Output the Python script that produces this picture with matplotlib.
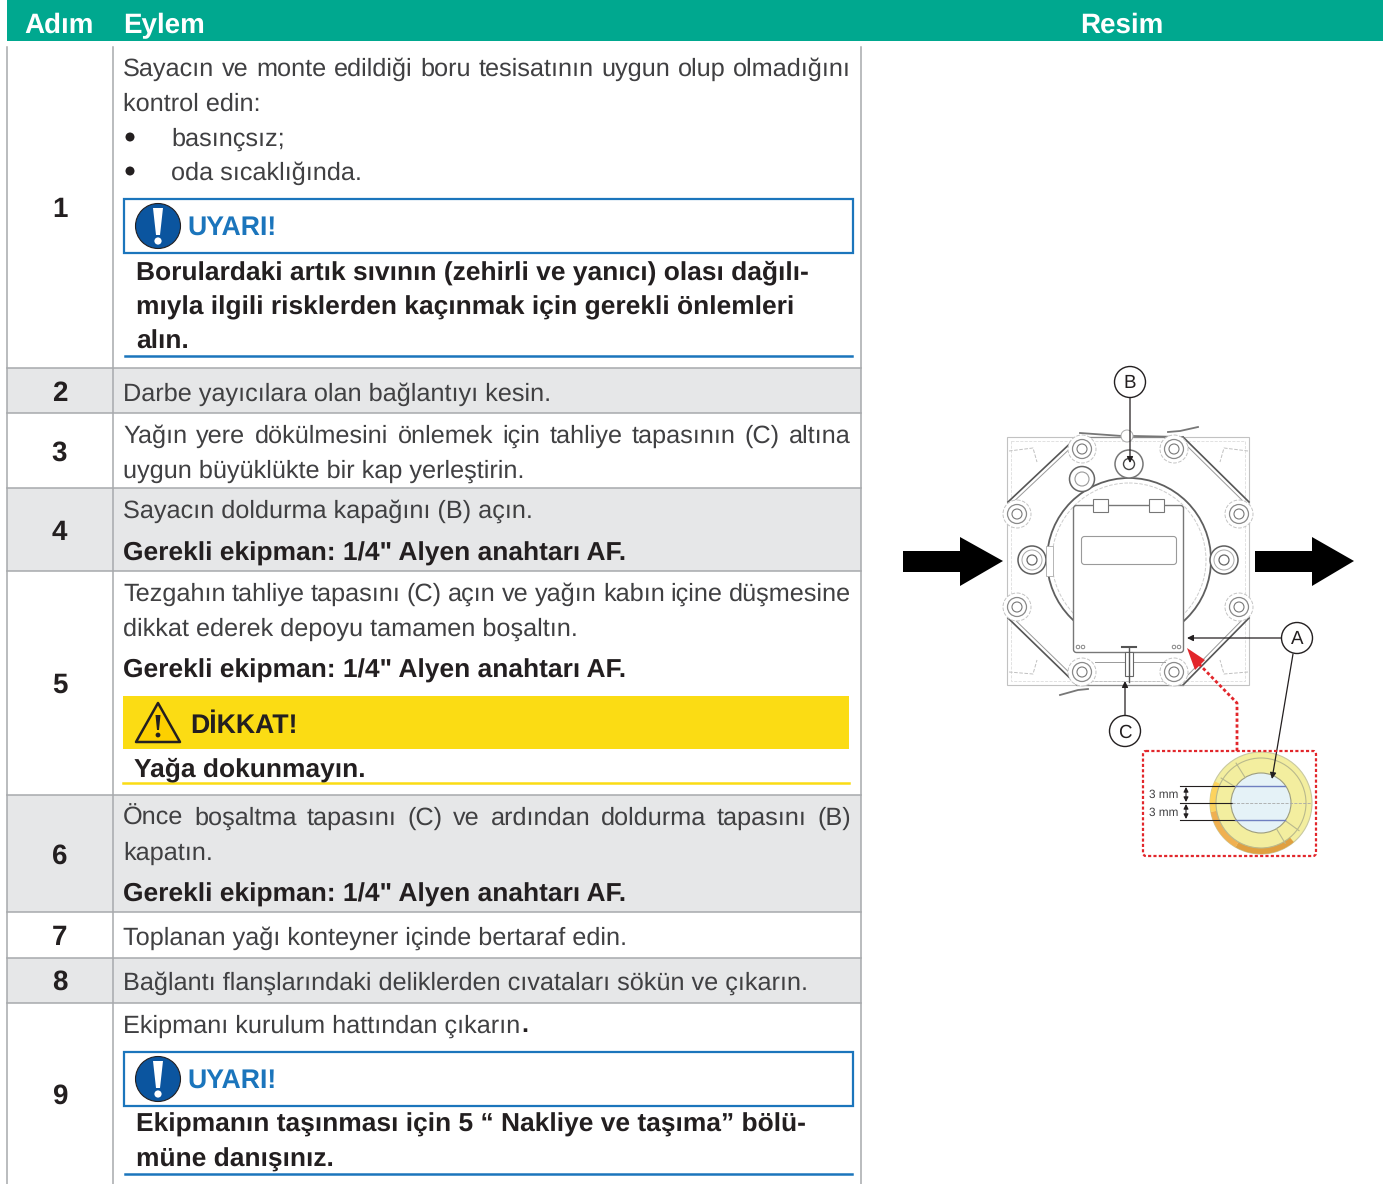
import matplotlib
matplotlib.use('Agg')
import matplotlib.pyplot as plt
import matplotlib.patches as mp
import numpy as np

plt.rcParams['text.hinting'] = 'no_hinting'

W, H = 1389, 1184

# table content
header_labels = ['Adım', 'Eylem', 'Resim']
header_x = [59, 123.5, 1122]
header_ha = ['center', 'left', 'center']
step_labels = ['1', '2', '3', '4', '5', '6', '7', '8', '9']
row_edges = [47, 368, 413, 488, 571, 795, 912, 958, 1003, 1184]
step_y = [217, 401, 461, 540, 693, 864, 945, 990, 1104]
shaded_rows = [1, 3, 5, 7]

# text, x, baseline, justified
regular_lines = [
    ('Sayacın ve monte edildiği boru tesisatının uygun olup olmadığını', 123, 75.5, True),
    ('kontrol edin:', 123, 110.5, False),
    ('basınçsız;', 171, 145.5, False),
    ('oda sıcaklığında.', 171, 179.5, False),
    ('Darbe yayıcılara olan bağlantıyı kesin.', 123, 400.5, False),
    ('Yağın yere dökülmesini önlemek için tahliye tapasının (C) altına', 123, 442.5, True),
    ('uygun büyüklükte bir kap yerleştirin.', 123, 477.5, False),
    ('Sayacın doldurma kapağını (B) açın.', 123, 517.5, False),
    ('Tezgahın tahliye tapasını (C) açın ve yağın kabın içine düşmesine', 123, 600.5, True),
    ('dikkat ederek depoyu tamamen boşaltın.', 123, 635.5, False),
    ('Önce boşaltma tapasını (C) ve ardından doldurma tapasını (B)', 123, 824.5, True),
    ('kapatın.', 123, 859.5, False),
    ('Toplanan yağı konteyner içinde bertaraf edin.', 123, 944.5, False),
    ('Bağlantı flanşlarındaki deliklerden cıvataları sökün ve çıkarın.', 123, 989.5, False),
    ('Ekipmanı kurulum hattından çıkarın', 123, 1032.5, False),
]
bold_lines = [
    ('Borulardaki artık sıvının (zehirli ve yanıcı) olası dağılı-', 136, 279),
    ('mıyla ilgili risklerden kaçınmak için gerekli önlemleri', 136, 314),
    ('alın.', 136, 349),
    ('Gerekli ekipman: 1/4" Alyen anahtarı AF.', 123, 561),
    ('Gerekli ekipman: 1/4" Alyen anahtarı AF.', 123, 678),
    ('Yağa dokunmayın.', 134, 776),
    ('Gerekli ekipman: 1/4" Alyen anahtarı AF.', 123, 902),
    ('Ekipmanın taşınması için 5 “ Nakliye ve taşıma” bölü-', 136, 1132),
    ('müne danışınız.', 136, 1167),
]
bullet_y = [137, 171]
warning_tops = [199, 1052]
warning_bottoms = [356, 1174]

# drawing geometry
small_bolts = [(1082, 449), (1174, 449), (1017, 514), (1239, 514),
               (1017, 607), (1239, 607), (1082, 672), (1174, 672)]
large_bolts = [(1032, 560), (1224, 560)]
chamfers = [((1077, 437), (1008, 502)), ((1183, 437), (1249, 502)),
            ((1008, 618), (1077, 685)), ((1249, 618), (1183, 685))]
corner_curves = [((1009, 451), (1033, 448), (1037, 462)), ((1248, 451), (1224, 448), (1220, 462)),
                 ((1009, 672), (1033, 674), (1037, 660)), ((1248, 672), (1224, 674), (1220, 660))]
callouts = [('B', 1130, 382), ('A', 1297, 638), ('C', 1125, 731)]
window_dividers = [122, 148, -36, -59]

GREEN = '#00a88f'
BLUE = '#1b75bc'
YELLOW = '#fbdc14'
GRID = '#a7a9ac'
SHADE = '#e6e7e8'
INK = '#404042'
DARK = '#231f20'
FONT = 'Liberation Sans'
BODY = 18.15
BOLD = 19.0

fig = plt.figure(figsize=(W / 100, H / 100), dpi=100)
ax = fig.add_axes([0, 0, 1, 1])
ax.set_xlim(0, W)
ax.set_ylim(H, 0)
ax.axis('off')
renderer = fig.canvas.get_renderer()


def rect(x0, y0, x1, y1, **kw):
    ax.add_patch(mp.Rectangle((x0, y0), x1 - x0, y1 - y0, **kw))


def put_justified(text, x, y, right, **kw):
    words = text.split(' ')
    widths = []
    for w in words:
        t = ax.text(0, 0, w, **kw)
        widths.append(t.get_window_extent(renderer).width)
        t.remove()
    gap = (right - x - sum(widths)) / (len(words) - 1)
    for w, wd in zip(words, widths):
        ax.text(x, y, w, **kw)
        x += wd + gap


# header and table
rect(7, 0, 1383, 41, fc=GREEN, ec='none')
for lab, x, ha in zip(header_labels, header_x, header_ha):
    ax.text(x, 33, lab, color='white', fontsize=20, fontweight='bold', family=FONT, ha=ha, va='baseline')

for i in shaded_rows:
    rect(7, row_edges[i], 861, row_edges[i + 1], fc=SHADE, ec='none')
for y in row_edges[1:-1]:
    ax.plot([7, 861], [y, y], color=GRID, lw=1.1)
for x in [7, 113, 861]:
    ax.plot([x, x], [row_edges[0], H], color=GRID, lw=1.1)
for lab, y in zip(step_labels, step_y):
    ax.text(59.5, y, lab, color=DARK, fontsize=20, fontweight='bold', family=FONT, ha='center', va='baseline')

last = None
for text, x, y, just in regular_lines:
    kw = dict(color=INK, fontsize=BODY, family=FONT, va='baseline')
    if just:
        put_justified(text, x, y, 851, **kw)
    else:
        last = ax.text(x, y, text, **kw)
ax.text(last.get_window_extent(renderer).x1 + 1.5, 1032.5, '.', color=DARK, fontsize=BODY, fontweight='bold', family=FONT, va='baseline')
for text, x, y in bold_lines:
    ax.text(x, y, text, color=DARK, fontsize=BOLD, fontweight='bold', family=FONT, va='baseline')
for y in bullet_y:
    ax.add_patch(mp.Circle((130, y), 4.5, fc=DARK, ec='none'))

# warnings
for top, bottom in zip(warning_tops, warning_bottoms):
    rect(124, top, 853, top + 54, fc='white', ec=BLUE, lw=1.6)
    ax.plot([125, 852], [bottom, bottom], color=BLUE, lw=1.8)
    cy = top + 27
    ax.add_patch(mp.Circle((158, cy), 22.5, fc='#0b559f', ec=DARK, lw=0.8))
    ax.add_patch(mp.Polygon([(153, cy - 18), (163, cy - 18), (160, cy + 9), (156, cy + 9)], fc='white', ec='none'))
    ax.add_patch(mp.Circle((158, cy + 15), 3.6, fc='white', ec='none'))
    ax.text(187.5, cy + 9, 'UYARI!', color=BLUE, fontsize=19.2, fontweight='bold', family=FONT, va='baseline')

# caution
rect(123, 696, 849, 749, fc=YELLOW, ec='none')
ax.plot([123, 849], [783, 783], color=YELLOW, lw=1.8)
ax.add_patch(mp.Polygon([(158, 703), (180, 742), (136, 742)], fc='#fdd000', ec=DARK, lw=1.8, joinstyle='round'))
ax.add_patch(mp.Polygon([(155.5, 715), (160.5, 715), (159, 730), (157, 730)], fc=DARK, ec='none'))
ax.add_patch(mp.Circle((158, 735), 2.4, fc=DARK, ec='none'))
ax.text(190, 733, 'DİKKAT!', color=DARK, fontsize=19.2, fontweight='bold', family=FONT, va='baseline')

# meter drawing
rect(1007, 437, 1249, 685, fc='white', ec='#c2c2c2', lw=0.8, zorder=2)
rect(1011, 441, 1245, 681, fc='none', ec='#dddddd', lw=0.6, ls='--', zorder=2)
for (x0, y0), (x1, y1) in chamfers:
    ax.plot([x0, x1], [y0, y1], color='#555555', lw=1.2, zorder=3)
    ax.plot([x0, x1], [y0 + 5, y1 + 5] if x0 in (1077, 1183) else [y0 - 5, y1 - 5], color='#999999', lw=0.7, zorder=3)
for pts in corner_curves:
    xs, ys = zip(*pts)
    ax.plot(xs, ys, color='#c0c0c0', lw=0.7, ls='--', zorder=3)
ax.plot([1077, 1183], [437, 437], color='#8a8a8a', lw=0.9, zorder=3)
ax.plot([1077, 1183], [685, 685], color='#8a8a8a', lw=0.9, zorder=3)
ax.plot([1077, 1183], [681, 681], color='#bbbbbb', lw=0.6, ls='--', zorder=3)
ax.plot([1080, 1122], [433, 436], color='#777777', lw=1.3, zorder=3)
ax.plot([1134, 1183], [436, 437], color='#777777', lw=1.3, zorder=3)
ax.add_patch(mp.Circle((1129, 560), 82, fc='white', ec='#5f5f5f', lw=1.3, zorder=3))
ax.add_patch(mp.Circle((1129, 560), 77, fc='none', ec='#cccccc', lw=0.7, ls='--', zorder=3))
for cx, cy in small_bolts:
    ax.add_patch(mp.Circle((cx, cy), 14, fc='white', ec='#c4c4c4', lw=0.7, ls='--', zorder=3))
    ax.add_patch(mp.Circle((cx, cy), 9.5, fc='white', ec='#8a8a8a', lw=0.9, zorder=3))
    ax.add_patch(mp.Circle((cx, cy), 5, fc='white', ec='#777777', lw=0.8, zorder=3))
for cx, cy in large_bolts:
    ax.add_patch(mp.Circle((cx, cy), 14, fc='white', ec='#5f5f5f', lw=1.1, zorder=3))
    ax.add_patch(mp.Circle((cx, cy), 10, fc='white', ec='#aaaaaa', lw=0.7, zorder=3))
    ax.add_patch(mp.Circle((cx, cy), 5, fc='white', ec='#666666', lw=0.9, zorder=3))
ax.add_patch(mp.Circle((1129, 464), 14, fc='white', ec='#777777', lw=1.1, zorder=3))
ax.add_patch(mp.Circle((1129, 464), 5.5, fc='white', ec='#444444', lw=1, zorder=3))
ax.add_patch(mp.Circle((1082, 479), 12.5, fc='white', ec='#666666', lw=1.1, zorder=3))
ax.add_patch(mp.Circle((1082, 479), 7, fc='white', ec='#999999', lw=0.8, zorder=3))
ax.add_patch(mp.FancyBboxPatch((1075, 507), 107, 144, boxstyle='round,pad=1.5,rounding_size=3', fc='white', ec='#777777', lw=1, zorder=4))
ax.add_patch(mp.FancyBboxPatch((1083, 538), 92, 25, boxstyle='round,pad=1.5,rounding_size=3', fc='white', ec='#9a9a9a', lw=0.8, zorder=5))
rect(1046, 546, 1053, 576, fc='white', ec='#aaaaaa', lw=0.6, zorder=3)
for x0 in [1093, 1149]:
    rect(x0, 499, x0 + 15, 512, fc='white', ec='#777777', lw=0.8, zorder=5)
for cx, cy in [(1078, 647), (1083, 647), (1174, 647), (1179, 647)]:
    ax.add_patch(mp.Circle((cx, cy), 1.8, fc='white', ec='#777777', lw=0.6, zorder=5))
ax.add_patch(mp.Circle((1127, 436), 6, fc='white', ec='#aaaaaa', lw=0.7, zorder=4))
ax.plot([1168, 1180, 1198], [432, 431, 427], color='#777777', lw=1.3, zorder=4)
ax.plot([1060, 1078, 1088], [695, 690, 689], color='#777777', lw=1.3, zorder=4)
rect(1125, 652, 1133, 676, fc='white', ec='#666666', lw=0.8, zorder=5)
ax.plot([1122, 1136], [647, 647], color='#555555', lw=1.5, zorder=5)
ax.plot([1129, 1129], [647, 682], color='#555555', lw=1, zorder=5)
ax.plot([1095, 1165], [662, 662], color='#999999', lw=0.7, zorder=3)

# flow arrows
for x0, x1, x2 in [(903, 960, 1003), (1255, 1312, 1354)]:
    ax.add_patch(mp.Polygon([(x0, 551), (x1, 551), (x1, 537), (x2, 561), (x1, 586), (x1, 572), (x0, 572)], fc='black', ec='none', zorder=6))

# callouts
for lab, cx, cy in callouts:
    ax.add_patch(mp.Circle((cx, cy), 15.5, fc='white', ec=DARK, lw=1, zorder=7))
    ax.text(cx, cy + 6.5, lab, color=DARK, fontsize=13.5, family=FONT, ha='center', va='baseline', zorder=8)
for (x0, y0), (x1, y1) in [((1130, 398), (1130, 463)), ((1281, 638), (1187, 638)),
                           ((1125, 715), (1125, 681)), ((1293, 654), (1272, 779))]:
    ax.annotate('', xy=(x1, y1), xytext=(x0, y0), zorder=7,
                arrowprops=dict(arrowstyle='-|>', color=DARK, lw=0.9, mutation_scale=9, shrinkA=0, shrinkB=0))

# red detail frame
RED = '#e2262b'
ax.plot([1237, 1237, 1199], [751, 703, 664], color=RED, lw=2, ls=(0, (1.2, 0.9)), zorder=7)
ax.add_patch(mp.Polygon([(1187, 648), (1205, 660), (1195, 670)], fc=RED, ec='none', zorder=7))
ax.add_patch(mp.FancyBboxPatch((1146, 754), 167, 99, boxstyle='round,pad=3,rounding_size=3', fc='none', ec=RED, lw=1.6, ls=(0, (1.4, 1.0)), zorder=7))

# detail of the window
cx, cy = 1261, 803
ax.add_patch(mp.Circle((cx, cy), 51, fc='#f3ee9f', ec='#c9c9a0', lw=0.8, zorder=3))
ax.add_patch(mp.Wedge((cx, cy), 51, 50, 120, width=6, fc='#e0a040', ec='none', zorder=4))
ax.add_patch(mp.Wedge((cx, cy), 51, 120, 170, width=6, fc='#f0b050', ec='none', zorder=4))
ax.add_patch(mp.Wedge((cx, cy), 51, 170, 205, width=6, fc='#fdd35e', ec='none', zorder=4))
ax.add_patch(mp.Circle((cx, cy), 45, fc='none', ec='#b9b98d', lw=0.8, zorder=4))
ax.add_patch(mp.Circle((cx, cy), 30, fc='#e5f2f7', ec='#9d9d80', lw=0.8, zorder=4))
for deg in window_dividers:
    a = np.deg2rad(deg)
    ax.plot([cx + 30 * np.cos(a), cx + 47 * np.cos(a)], [cy - 30 * np.sin(a), cy - 47 * np.sin(a)], color='#b9b98d', lw=0.8, zorder=4)
for y in [786, 820]:
    ax.plot([1180, 1235], [y, y], color=DARK, lw=0.8, zorder=5)
    ax.plot([1235, 1285], [y, y], color='#6f7fc0', lw=1, zorder=5)
ax.plot([1180, 1232], [803, 803], color=DARK, lw=0.8, zorder=5)
ax.plot([1232, 1311], [803, 803], color='#a8a8a8', lw=0.6, ls='--', zorder=5)
for label, y in [('3 mm', 798), ('3 mm', 816)]:
    ax.text(1149, y, label, color=INK, fontsize=8.5, family=FONT, va='baseline', zorder=8)
for y0, y1 in [(787, 802), (804, 819)]:
    ax.annotate('', xy=(1186, y0), xytext=(1186, y1), zorder=8,
                arrowprops=dict(arrowstyle='<|-|>', color=DARK, lw=0.8, mutation_scale=7, shrinkA=0, shrinkB=0))

fig.savefig('out.png', dpi=100, facecolor='white')
